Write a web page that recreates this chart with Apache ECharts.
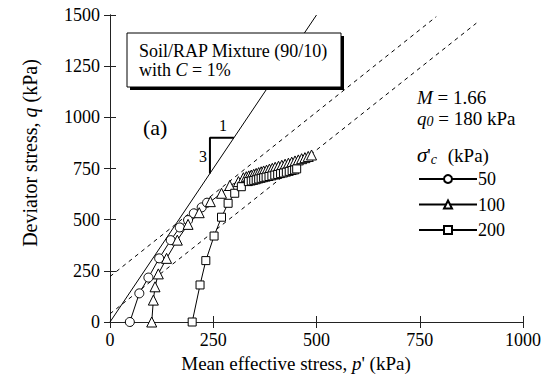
<!DOCTYPE html>
<html><head><meta charset="utf-8">
<script src="https://cdn.jsdelivr.net/npm/echarts@6/dist/echarts.min.js"></script>
<style>html,body{margin:0;padding:0;background:#fff}#c{width:544px;height:384px}</style>
</head><body><div id="c"></div>
<script>
// axis ranges / ticks
const xTicks = [0, 250, 500, 750, 1000];
const yTicks = [0, 250, 500, 750, 1000, 1250, 1500];

// sigma'c = 50 kPa (circles)
const p50 = [48, 71, 93, 119, 147, 169, 189, 203, 222, 235];
const q50 = [0, 140, 217, 311, 400, 462, 498, 531, 560, 583];

// sigma'c = 100 kPa (triangles)
const p100 = [101, 105, 109, 117, 137, 163, 189, 216, 243, 270, 290, 311, 323,
  330, 336, 342, 348, 354, 360, 366, 372, 379, 386, 393, 400, 408, 416, 424, 432, 440, 448, 456, 464, 472, 480, 488];
const q100 = [0, 107, 172, 235, 311, 400, 477, 534, 588, 629, 667, 686, 705,
  710, 714, 718, 722, 726, 730, 734, 738, 742, 747, 751, 756, 761, 766, 771, 776, 781, 787, 792, 798, 803, 809, 816];

// sigma'c = 200 kPa (squares)
const p200 = [199, 218, 232, 252, 270, 286, 302, 318, 335,
  342, 348, 354, 360, 366, 372, 378, 385, 392, 399, 406, 413, 420, 427, 434, 441, 447, 452];
const q200 = [0, 181, 300, 420, 512, 580, 629, 661, 686,
  689, 692, 695, 699, 702, 705, 708, 711, 714, 718, 721, 725, 728, 732, 736, 740, 743, 748];

// reference lines
const cslP = [0, 500], cslQ = [0, 1500];            // slope 3 line
const upP = [0, 790], upQ = [222, 1492];           // upper dashed
const loP = [0, 887], loQ = [40, 1460];            // lower dashed
const triP = [242, 242, 300], triQ = [726, 900, 900]; // slope triangle

const F = "Liberation Serif, Times New Roman, serif";
const zip = (a, b) => a.map((v, i) => [v, b[i]]);

const chart = echarts.init(document.getElementById('c'), null, {renderer: 'svg'});

const axisCommon = {
  type: 'value',
  axisLine: {show: true, lineStyle: {color: '#222', width: 1}},
  axisTick: {show: true, inside: true, length: 6, lineStyle: {color: '#222', width: 1}},
  splitLine: {show: false}
};

const refLine = (name, p, q, type, width) => ({
  name, type: 'line', data: zip(p, q), symbol: 'none', silent: true,
  lineStyle: {color: '#000', width: width || 1, type: type || 'solid'}, z: 1, animation: false
});

const dataSeries = (name, p, q, sym, size) => ({
  name, type: 'line', data: zip(p, q), symbol: sym, symbolSize: size,
  showAllSymbol: true,
  lineStyle: {color: '#000', width: 1},
  itemStyle: {color: '#fff', borderColor: '#000', borderWidth: 1},
  z: 3, animation: false
});

const plain = v => String(v);

chart.setOption({
  animation: false,
  grid: {left: 110, right: 20, top: 15, bottom: 62},
  xAxis: [
    Object.assign({}, axisCommon, {
      min: xTicks[0], max: xTicks[xTicks.length - 1], interval: xTicks[1] - xTicks[0],
      axisLabel: {fontFamily: F, fontSize: 18, color: '#000', margin: 9, formatter: plain}
    }),
    Object.assign({}, axisCommon, {
      position: 'top',
      min: xTicks[0], max: xTicks[xTicks.length - 1], interval: xTicks[1] - xTicks[0],
      axisLabel: {show: false}
    })
  ],
  yAxis: [
    Object.assign({}, axisCommon, {
      min: yTicks[0], max: yTicks[yTicks.length - 1], interval: yTicks[1] - yTicks[0],
      axisLabel: {fontFamily: F, fontSize: 18, color: '#000', margin: 10, formatter: plain}
    }),
    Object.assign({}, axisCommon, {
      position: 'right',
      min: yTicks[0], max: yTicks[yTicks.length - 1], interval: yTicks[1] - yTicks[0],
      axisLabel: {show: false}
    })
  ],
  legend: {
    orient: 'vertical', left: 418, top: 170, padding: 0, itemWidth: 58, itemHeight: 10, itemGap: 7.5,
    textStyle: {fontFamily: F, fontSize: 18, color: '#000', padding: [0, 0, 0, -4]},
    data: ['50', '100', '200'], selectedMode: false
  },
  series: [
    refLine('csl', cslP, cslQ),
    refLine('upper', upP, upQ, [4, 4]),
    refLine('lower', loP, loQ, [4, 4]),
    refLine('tri', triP, triQ, 'solid', 2),
    dataSeries('50', p50, q50, 'circle', 9),
    dataSeries('100', p100, q100, 'triangle', 10),
    dataSeries('200', p200, q200, 'rect', 8)
  ],
  graphic: [
    {type: 'rect', shape: {x: 130, y: 36, width: 214, height: 54}, style: {fill: '#000'}, z: 10},
    {type: 'rect', shape: {x: 127, y: 33, width: 214, height: 54}, style: {fill: '#fff', stroke: '#000', lineWidth: 1}, z: 11},
    {type: 'text', x: 139, y: 51, z: 12, style: {text: 'Soil/RAP Mixture (90/10)', font: '18px ' + F, fill: '#000', verticalAlign: 'middle'}},
    {type: 'text', x: 139, y: 70, z: 12, style: {
      text: '{n|with }{i|C}{n| = 1%}', fill: '#000', verticalAlign: 'middle',
      rich: {n: {fontFamily: F, fontSize: 18}, i: {fontFamily: F, fontSize: 18, fontStyle: 'italic'}}}},
    {type: 'text', x: 143, y: 127, z: 12, style: {text: '(a)', font: '22px ' + F, fill: '#000', verticalAlign: 'middle'}},
    {type: 'text', x: 223, y: 125, z: 12, style: {text: '1', font: '16px ' + F, fill: '#000', align: 'center', verticalAlign: 'middle'}},
    {type: 'text', x: 203, y: 156, z: 12, style: {text: '3', font: '16px ' + F, fill: '#000', align: 'center', verticalAlign: 'middle'}},
    {type: 'text', x: 417, y: 97, z: 12, style: {
      text: '{i|M}{n| = 1.66}', fill: '#000', verticalAlign: 'middle',
      rich: {n: {fontFamily: F, fontSize: 19}, i: {fontFamily: F, fontSize: 19, fontStyle: 'italic'}}}},
    {type: 'text', x: 417, y: 118, z: 12, style: {
      text: '{i|q}{s|0}{n| = 180 kPa}', fill: '#000', verticalAlign: 'middle',
      rich: {n: {fontFamily: F, fontSize: 19, lineHeight: 20}, i: {fontFamily: F, fontSize: 19, fontStyle: 'italic', lineHeight: 20},
        s: {fontFamily: F, fontSize: 14, fontStyle: 'italic', verticalAlign: 'bottom', lineHeight: 20}}}},
    {type: 'text', x: 417, y: 155, z: 12, style: {
      text: '{i|σ}{n|\'}{s|c}{n| (kPa)}', fill: '#000', verticalAlign: 'middle',
      rich: {n: {fontFamily: F, fontSize: 19, lineHeight: 22}, i: {fontFamily: F, fontSize: 21, fontStyle: 'italic', lineHeight: 22},
        s: {fontFamily: F, fontSize: 14, fontStyle: 'italic', verticalAlign: 'bottom', lineHeight: 22, padding: [0, 6, 0, 0]}}}},
    {type: 'text', x: 30, y: 153, rotation: Math.PI / 2, z: 12, style: {
      text: '{n|Deviator stress, }{i|q}{n| (kPa)}', fill: '#000', align: 'center', verticalAlign: 'middle',
      rich: {n: {fontFamily: F, fontSize: 20}, i: {fontFamily: F, fontSize: 20, fontStyle: 'italic'}}}},
    {type: 'text', x: 296, y: 363, z: 12, style: {
      text: '{n|Mean effective stress, }{i|p}{n|\' (kPa)}', fill: '#000', align: 'center', verticalAlign: 'middle',
      rich: {n: {fontFamily: F, fontSize: 19}, i: {fontFamily: F, fontSize: 19, fontStyle: 'italic'}}}}
  ]
});
</script></body></html>
